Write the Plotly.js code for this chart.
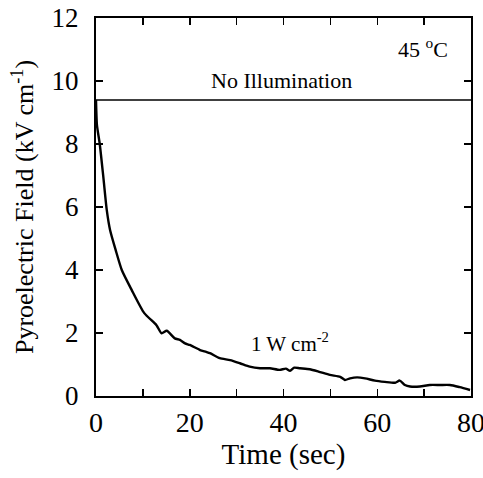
<!DOCTYPE html>
<html>
<head>
<meta charset="utf-8">
<script src="https://cdn.plot.ly/plotly-3.0.1.min.js"></script>
<style>
html,body{margin:0;padding:0;background:#fff;}
#chart{width:483px;height:478px;}
#chart text{font-family:"Liberation Serif","DejaVu Serif",serif !important;}
</style>
</head>
<body>
<div id="chart"></div>
<script>
// Time (sec) and pyroelectric field (kV/cm) under 1 W cm^-2 illumination
var timeIllum = [0, 0.2, 0.8, 1.6, 2.3, 3.0, 4.2, 5.5, 7.6, 10.3, 12.9, 14.0, 15.1, 16.8, 17.9, 19.0, 20.0, 22.2, 23.5, 24.3, 26.4, 28.6, 30.7, 32.8, 35.0, 37.1, 39.2, 40.5, 41.4, 42.3, 43.5, 45.6, 47.8, 49.9, 52.1, 53.1, 54.2, 55.7, 57.4, 59.5, 61.6, 63.8, 64.8, 65.9, 67.0, 69.1, 71.2, 73.4, 75.5, 77.6, 79.8];
var fieldIllum = [9.4, 8.6, 8.0, 6.9, 5.9, 5.27, 4.63, 4.0, 3.37, 2.63, 2.25, 1.99, 2.07, 1.83, 1.78, 1.67, 1.62, 1.46, 1.40, 1.36, 1.20, 1.14, 1.04, 0.93, 0.88, 0.88, 0.83, 0.87, 0.80, 0.90, 0.88, 0.85, 0.76, 0.67, 0.61, 0.51, 0.56, 0.59, 0.56, 0.49, 0.45, 0.42, 0.49, 0.35, 0.30, 0.30, 0.35, 0.35, 0.35, 0.28, 0.19];
// No illumination: constant field
var timeDark = [0, 80];
var fieldDark = [9.4, 9.4];

var xTickVals = [0, 20, 40, 60, 80];
var yTickVals = [0, 2, 4, 6, 8, 10, 12];

var serif = '"Liberation Serif", "DejaVu Serif", serif';

var traces = [
  {x: timeDark, y: fieldDark, mode: "lines", line: {color: "#000", width: 1.5}, hoverinfo: "skip"},
  {x: timeIllum, y: fieldIllum, mode: "lines", line: {color: "#000", width: 2.4, shape: "spline", smoothing: 0.6}, hoverinfo: "skip"}
];

var layout = {
  width: 483, height: 478,
  margin: {l: 96, r: 12, t: 18, b: 82},
  paper_bgcolor: "#fff", plot_bgcolor: "#fff",
  showlegend: false,
  font: {family: serif, color: "#000"},
  xaxis: {
    range: [0, 80], tickvals: xTickVals, ticktext: xTickVals.map(String),
    ticks: "inside", ticklen: 7, tickwidth: 1.5, tickcolor: "#000",
    minor: {dtick: 10, tick0: 0, ticks: "inside", ticklen: 7, tickwidth: 1.5, tickcolor: "#000", showgrid: false},
    showline: true, linewidth: 2, linecolor: "#000", mirror: "ticks",
    showgrid: false, zeroline: false,
    ticklabeloverflow: "allow",
    tickfont: {family: serif, size: 28, color: "#000"},
    title: {text: "Time (sec)", font: {family: serif, size: 29, color: "#000"}, standoff: 6}
  },
  yaxis: {
    range: [0, 12], tickvals: yTickVals, ticktext: yTickVals.map(String),
    ticks: "inside", ticklen: 7, tickwidth: 1.5, tickcolor: "#000",
    ticklabelstandoff: 10,
    showline: true, linewidth: 2, linecolor: "#000", mirror: "ticks",
    showgrid: false, zeroline: false,
    tickfont: {family: serif, size: 27, color: "#000"},
    title: {text: "     Pyroelectric Field (kV cm<sup>-1</sup>)", font: {family: serif, size: 26, color: "#000"}, standoff: 10}
  },
  annotations: [
    {x: 69.7, y: 11.05, xref: "x", yref: "y", text: "45 <sup>o</sup>C", showarrow: false, font: {family: serif, size: 22, color: "#000"}},
    {x: 39.5, y: 10.03, xref: "x", yref: "y", text: "No Illumination", showarrow: false, font: {family: serif, size: 22, color: "#000"}},
    {x: 41.4, y: 1.7, xref: "x", yref: "y", text: "1 W cm<sup>-2</sup>", showarrow: false, font: {family: serif, size: 21, color: "#000"}}
  ]
};

Plotly.newPlot("chart", traces, layout, {staticPlot: true, displayModeBar: false});
</script>
</body>
</html>
